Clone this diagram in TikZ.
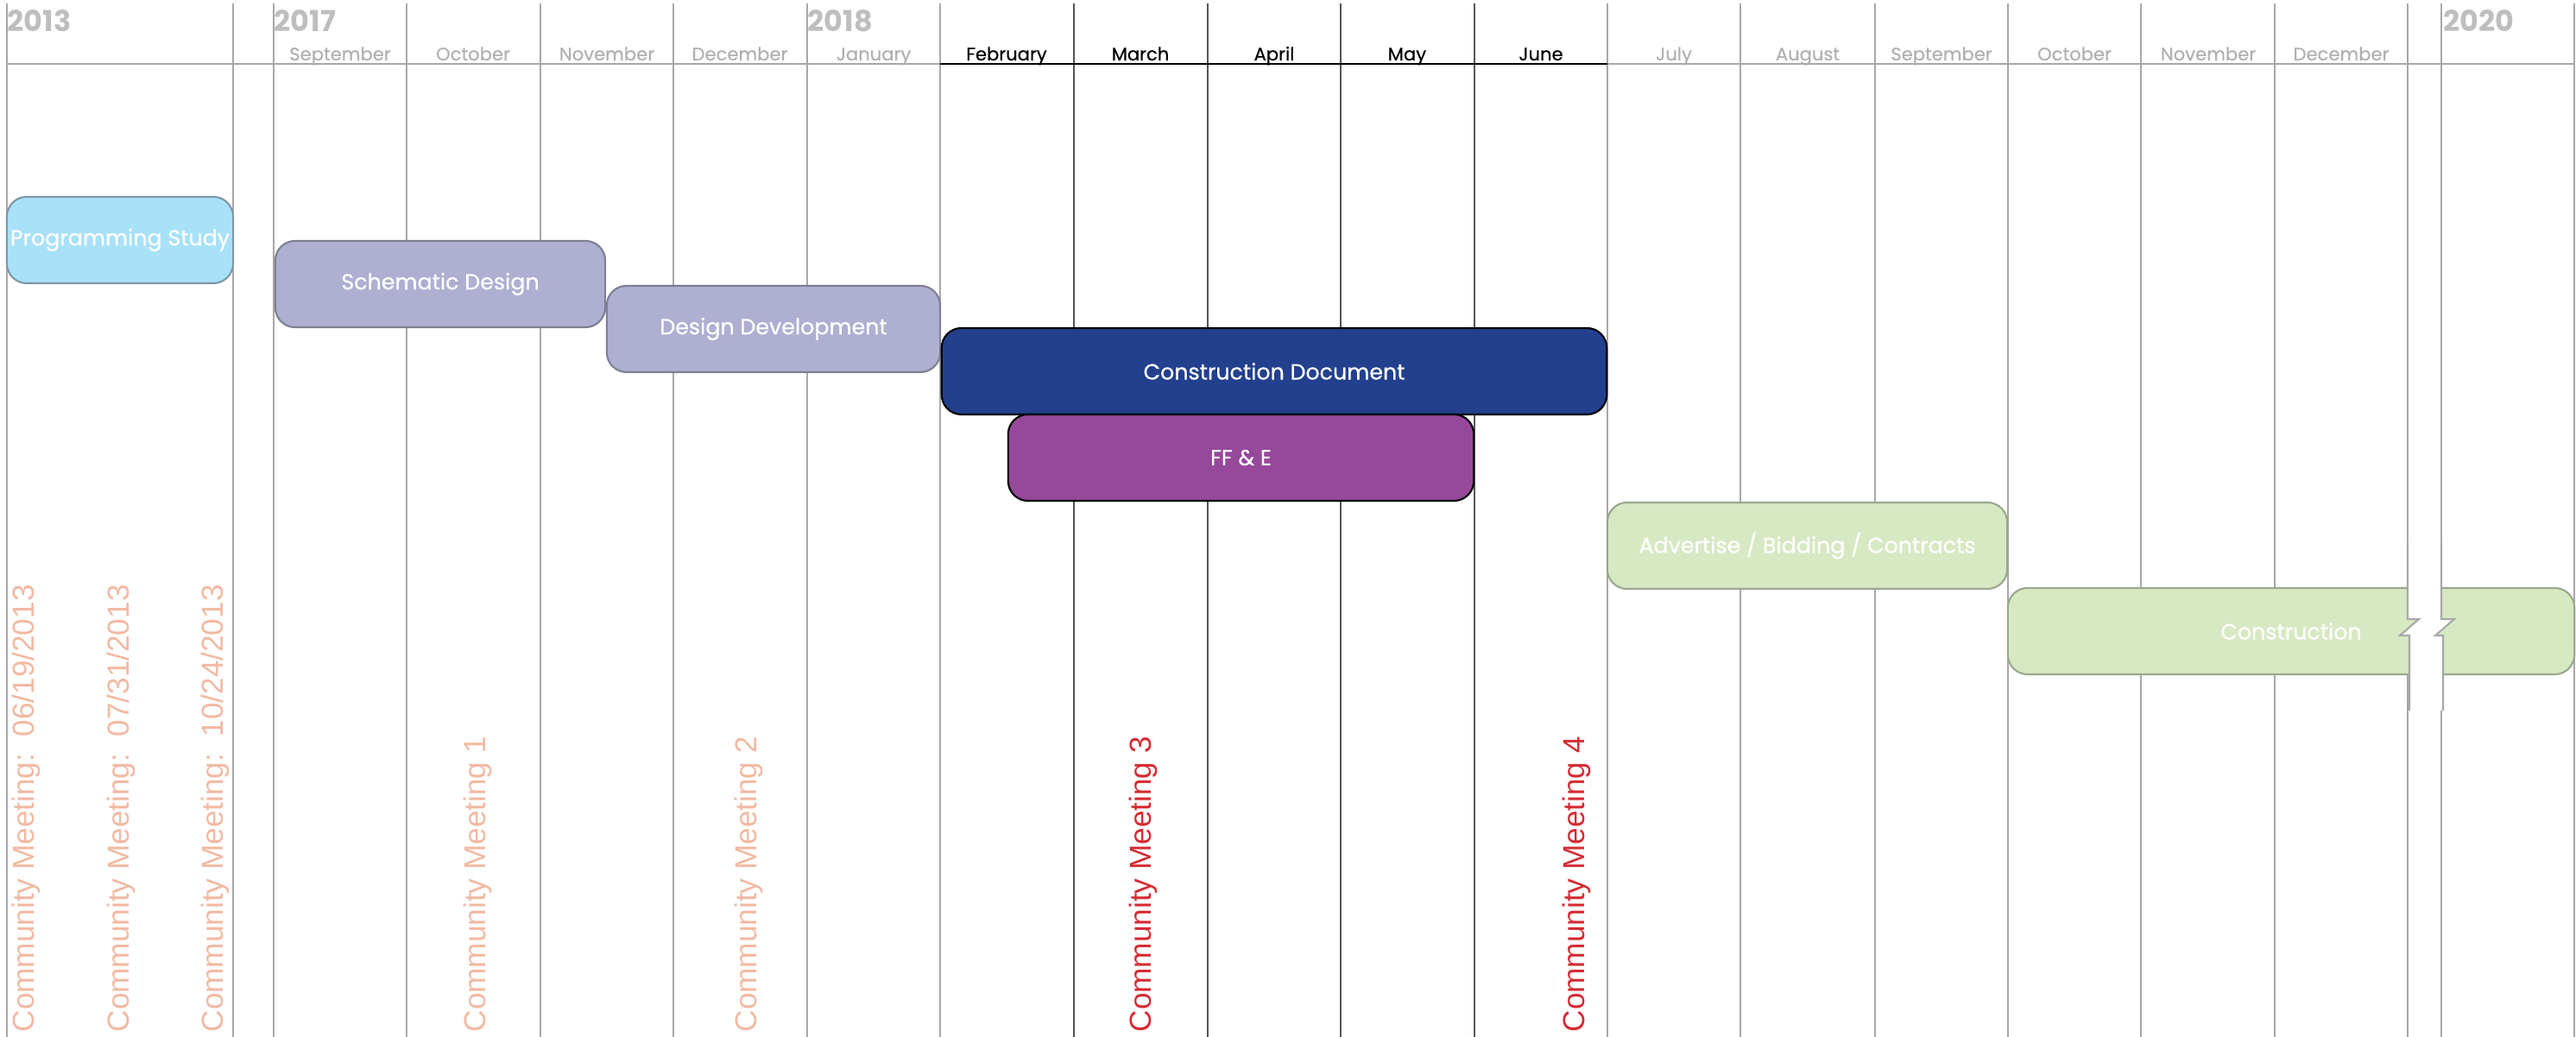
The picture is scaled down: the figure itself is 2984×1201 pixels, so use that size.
\documentclass[tikz,border=0pt]{standalone}
\usepackage{fontspec}
\setmainfont{Poppins}
\newfontfamily\arialf{Liberation Sans}
\usepackage{xcolor}
\usepackage{tikz}
\usetikzlibrary{shapes,positioning}
\definecolor{gridgray}{HTML}{A8A8A8}
\definecolor{griddark}{HTML}{555555}
\definecolor{mgray}{HTML}{B0B0B0}
\definecolor{ygray}{HTML}{BEBEBE}
\definecolor{psfill}{HTML}{A8E1F8}
\definecolor{psline}{HTML}{7E98A6}
\definecolor{sdfill}{HTML}{AFAFD2}
\definecolor{sdline}{HTML}{7F7F95}
\definecolor{cdfill}{HTML}{23408E}
\definecolor{fffill}{HTML}{96489B}
\definecolor{grfill}{HTML}{D7E9C3}
\definecolor{grline}{HTML}{9AA78F}
\definecolor{salmon}{HTML}{F2B9A2}
\definecolor{mred}{HTML}{D52B33}
\tikzset{bar/.style={rounded corners=6.5pt,draw,line width=0.6pt,minimum height=1cm,inner sep=0pt,text=white,font=\addfontfeature{FakeBold=0.6}\fontsize{7.2}{8}\selectfont}}
\tikzset{mon/.style={anchor=base,inner sep=0pt,text=mgray,font=\addfontfeature{FakeBold=0.4}\fontsize{6}{7}\selectfont}}
\tikzset{yr/.style={anchor=base west,inner sep=0pt,text=ygray,font=\bfseries\fontsize{9.5}{11}\selectfont}}
\tikzset{meet/.style={rotate=90,anchor=base west,inner sep=0pt,font=\arialf\fontsize{10}{12}\selectfont}}

\begin{document}
\begin{tikzpicture}[x=0.01cm,y=-0.01cm]
        \useasboundingbox (0,0) rectangle (2984,1201);

        \draw [gridgray,line width=0.4pt] (8,4) -- (8,1201) (270,4) -- (270,1201) (317,4) -- (317,1201)
            (471,4) -- (471,1201) (626,4) -- (626,1201) (780,4) -- (780,1201) (935,4) -- (935,1201)
            (1089,4) -- (1089,1201) (1862,4) -- (1862,1201) (2016,4) -- (2016,1201) (2172,4) -- (2172,1201)
            (2326,4) -- (2326,1201) (2480,4) -- (2480,1201) (2635,4) -- (2635,1201) (2789,4) -- (2789,1201)
            (2828,4) -- (2828,1201) (2982,4) -- (2982,1201);
        \draw [griddark,line width=0.4pt] (1244,4) -- (1244,1201) (1399,4) -- (1399,1201)
            (1553,4) -- (1553,1201) (1708,4) -- (1708,1201);
        \draw [gridgray,line width=0.5pt] (8,74) -- (1089,74) (1862,74) -- (2982,74);
        \draw [black,line width=0.5pt] (1089,74) -- (1862,74);

        \node[yr] (y1) at (8,37) {2013};
        \node[yr] (y2) at (317,37) {2017};
        \node[yr] (y3) at (935,37) {2018};
        \node[yr] (y4) at (2830,37) {2020};

        \node[mon] (m1) at (394,70) {September};
        \node[mon] (m2) at (548,70) {October};
        \node[mon] (m3) at (703,70) {November};
        \node[mon] (m4) at (857,70) {December};
        \node[mon] (m5) at (1012,70) {January};
        \node[mon,text=black] (m6) at (1166,70) {February};
        \node[mon,text=black] (m7) at (1321,70) {March};
        \node[mon,text=black] (m8) at (1476,70) {April};
        \node[mon,text=black] (m9) at (1630,70) {May};
        \node[mon,text=black] (m10) at (1785,70) {June};
        \node[mon] (m11) at (1939,70) {July};
        \node[mon] (m12) at (2094,70) {August};
        \node[mon] (m13) at (2249,70) {September};
        \node[mon] (m14) at (2403,70) {October};
        \node[mon] (m15) at (2558,70) {November};
        \node[mon] (m16) at (2712,70) {December};

        \node[bar,fill=psfill,draw=psline,minimum width=2.62cm] (ps) at (139,278) {Programming Study};
        \node[bar,fill=sdfill,draw=sdline,minimum width=3.82cm] (sd) at (510,329) {Schematic Design};
        \node[bar,fill=sdfill,draw=sdline,minimum width=3.86cm] (dd) at (896,381) {Design Development};
        \node[bar,fill=cdfill,draw=black,minimum width=7.70cm] (cd) at (1476,430) {Construction Document};
        \node[bar,fill=fffill,draw=black,minimum width=5.39cm] (ff) at (1437.5,530) {FF \& E};
        \node[bar,fill=grfill,draw=grline,minimum width=4.63cm] (ab) at (2093.5,632) {Advertise / Bidding / Contracts};
        \node[bar,fill=grfill,draw=grline,minimum width=6.56cm] (co) at (2654,731) {Construction};

        \fill [white] (2789,630) -- (2789,717) -- (2802,717) -- (2780,736) -- (2791,736) -- (2791,823)
            -- (2830,823) -- (2830,736) -- (2821,736) -- (2843,717) -- (2828,717) -- (2828,630) -- cycle;
        \draw [gridgray,line width=0.6pt] (2789,630) -- (2789,717) -- (2802,717) -- (2780,736) -- (2791,736) -- (2791,823);
        \draw [gridgray,line width=0.6pt] (2828,630) -- (2828,717) -- (2843,717) -- (2821,736) -- (2830,736) -- (2830,823);

        \node[meet,text=salmon] (c1) at (40,1196) {Community Meeting:\ \ 06/19/2013};
        \node[meet,text=salmon] (c2) at (149,1196) {Community Meeting:\ \ 07/31/2013};
        \node[meet,text=salmon] (c3) at (258,1196) {Community Meeting:\ \ 10/24/2013};
        \node[meet,text=salmon] (c4) at (562,1196) {Community Meeting 1};
        \node[meet,text=salmon] (c5) at (876,1196) {Community Meeting 2};
        \node[meet,text=mred] (c6) at (1333,1196) {Community Meeting 3};
        \node[meet,text=mred] (c7) at (1835,1196) {Community Meeting 4};
    \end{tikzpicture}
\end{document}
